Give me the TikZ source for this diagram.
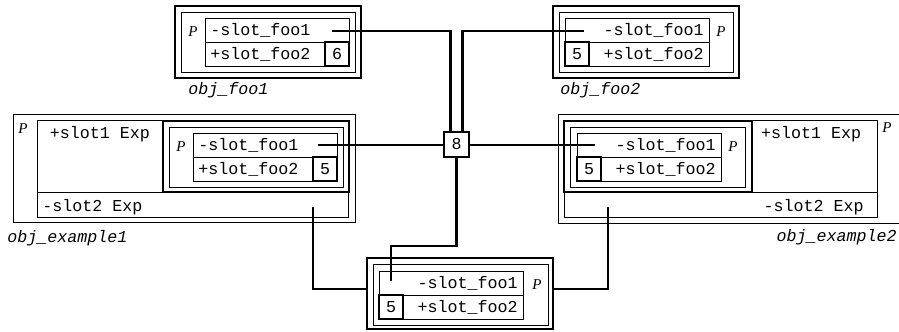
\documentclass[tikz,border=0pt]{standalone}
\usepackage{fontspec}
\newfontfamily\slotfont{Liberation Mono}
\newfontfamily\pfont{Liberation Serif}

\begin{document}
\begin{tikzpicture}[x=0.6pt, y=-0.6pt,
  thickbox/.style={draw, line width=1.2pt},
  thinbox/.style={draw, line width=0.6pt},
  slot/.style={inner sep=0pt, text height=7pt, text depth=0pt, font=\slotfont\fontsize{10}{12}\selectfont},
  objname/.style={inner sep=0pt, text height=7pt, text depth=0pt, font=\slotfont\itshape\fontsize{10}{12}\selectfont},
  ptag/.style={inner sep=0pt, text height=6pt, text depth=0pt, font=\pfont\itshape\fontsize{9}{11}\selectfont},
  counter/.style={draw, line width=1.2pt, minimum size=15pt, inner sep=0pt, fill=white, font=\slotfont\fontsize{10}{12}\selectfont},
  link/.style={line width=1.3pt}
]
\useasboundingbox (0,0) rectangle (899,331);

% --------- OBJ_FOO1 ----------
\begin{scope}[shift={(175,6)}]
  \draw[thickbox] (0,0) rectangle (186,72);
  \draw[thinbox] (6,6) rectangle (180,66);
  \draw[thinbox] (30,12) rectangle (174,60) (30,36) -- (174,36);
  \draw[thickbox] (150,36) rectangle (174,60);
  \node[ptag] (f1p) at (18,25) {P};
  \node[slot, anchor=west] (f1a) at (35,24) {-slot\_foo1};
  \node[slot, anchor=west] (f1b) at (35,48) {+slot\_foo2};
  \node[slot] (f1n) at (162,48) {6};
  \coordinate (f1s) at (157,25);
\end{scope}
\node[objname, anchor=west] (f1lab) at (188,89) {obj\_foo1};

% --------- OBJ_FOO2 ----------
\begin{scope}[shift={(553,6)}]
  \draw[thickbox] (0,0) rectangle (186,72);
  \draw[thinbox] (6,6) rectangle (180,66);
  \draw[thinbox] (12,12) rectangle (156,60) (12,36) -- (156,36);
  \draw[thickbox] (12,36) rectangle (36,60);
  \node[ptag] (f2p) at (168,25) {P};
  \node[slot, anchor=east] (f2a) at (151,24) {-slot\_foo1};
  \node[slot, anchor=east] (f2b) at (151,48) {+slot\_foo2};
  \node[slot] (f2n) at (24,48) {5};
  \coordinate (f2s) at (31,25);
\end{scope}
\node[objname, anchor=west] (f2lab) at (560,89) {obj\_foo2};

% --------- OBJ_EXAMPLE1 ----------
\draw[thinbox] (13,114) rectangle (355,222);
\draw[thinbox] (37,120) rectangle (348,217) (37,192) -- (348,192);
\node[ptag] (e1p) at (23,128) {P};
\node[slot] (e1a) at (100,133) {+slot1 Exp};
\node[slot, anchor=west] (e1b) at (42,206) {-slot2 Exp};
\coordinate (e1t) at (313,207);
\begin{scope}[shift={(163,121)}]
  \draw[thickbox] (0,0) rectangle (186,71);
  \draw[thinbox] (6,6) rectangle (180,66);
  \draw[thinbox] (30,12) rectangle (174,60) (30,36) -- (174,36);
  \draw[thickbox] (150,36) rectangle (174,60);
  \node[ptag] (g1p) at (18,25) {P};
  \node[slot, anchor=west] (g1a) at (35,24) {-slot\_foo1};
  \node[slot, anchor=west] (g1b) at (35,48) {+slot\_foo2};
  \node[slot] (g1n) at (162,48) {5};
  \coordinate (e1s) at (155,24);
\end{scope}
\node[objname, anchor=west] (e1lab) at (7,237) {obj\_example1};

% --------- OBJ_EXAMPLE2 ----------
\draw[thinbox] (558,114) rectangle (905,223);
\draw[thinbox] (564,120) rectangle (877,217) (564,192) -- (877,192);
\node[ptag] (e2p) at (887,127) {P};
\node[slot] (e2a) at (811,133) {+slot1 Exp};
\node[slot, anchor=east] (e2b) at (864,206) {-slot2 Exp};
\coordinate (e2t) at (608,207);
\begin{scope}[shift={(564,121)}]
  \draw[thickbox] (0,0) rectangle (188,71);
  \draw[thinbox] (6,6) rectangle (181,66);
  \draw[thinbox] (13,12) rectangle (157,60) (13,36) -- (157,36);
  \draw[thickbox] (13,36) rectangle (37,60);
  \node[ptag] (g2p) at (169,25) {P};
  \node[slot, anchor=east] (g2a) at (152,24) {-slot\_foo1};
  \node[slot, anchor=east] (g2b) at (152,48) {+slot\_foo2};
  \node[slot] (g2n) at (25,48) {5};
  \coordinate (e2s) at (31,24);
\end{scope}
\node[objname, anchor=east] (e2lab) at (897,236) {obj\_example2};

% --------- BOTTOM OBJECT ----------
\begin{scope}[shift={(367,258)}]
  \draw[thickbox] (0,0) rectangle (186,71);
  \draw[thinbox] (6,6) rectangle (181,67);
  \draw[thinbox] (12,13) rectangle (156,61) (12,37) -- (156,37);
  \draw[thickbox] (12,37) rectangle (36,61);
  \node[ptag] (bp) at (170,26) {P};
  \node[slot, anchor=east] (ba) at (151,25) {-slot\_foo1};
  \node[slot, anchor=east] (bb) at (151,49) {+slot\_foo2};
  \node[slot] (bn) at (24,49) {5};
  \coordinate (bs) at (24,23);
\end{scope}
\coordinate (bend) at (457,246);
\coordinate (bwest) at (367,289);
\coordinate (beast) at (553,289);

% --------- REFERENCE LINKS ----------
\node[counter] (cnt) at (456.5,144.5) {8};
\draw[link] (f1s) -| ([xshift=-3.6pt]cnt.north);
\draw[link] (f2s) -| ([xshift=3.6pt]cnt.north);
\draw[link] (e1s) -- (cnt.west |- e1s);
\draw[link] (e2s) -- (cnt.east |- e2s);
\draw[link] (cnt.south) -- (cnt.south |- bend) -| (bs);
\draw[link] (e1t) |- (bwest);
\draw[link] (e2t) |- (beast);

\end{tikzpicture}
\end{document}
